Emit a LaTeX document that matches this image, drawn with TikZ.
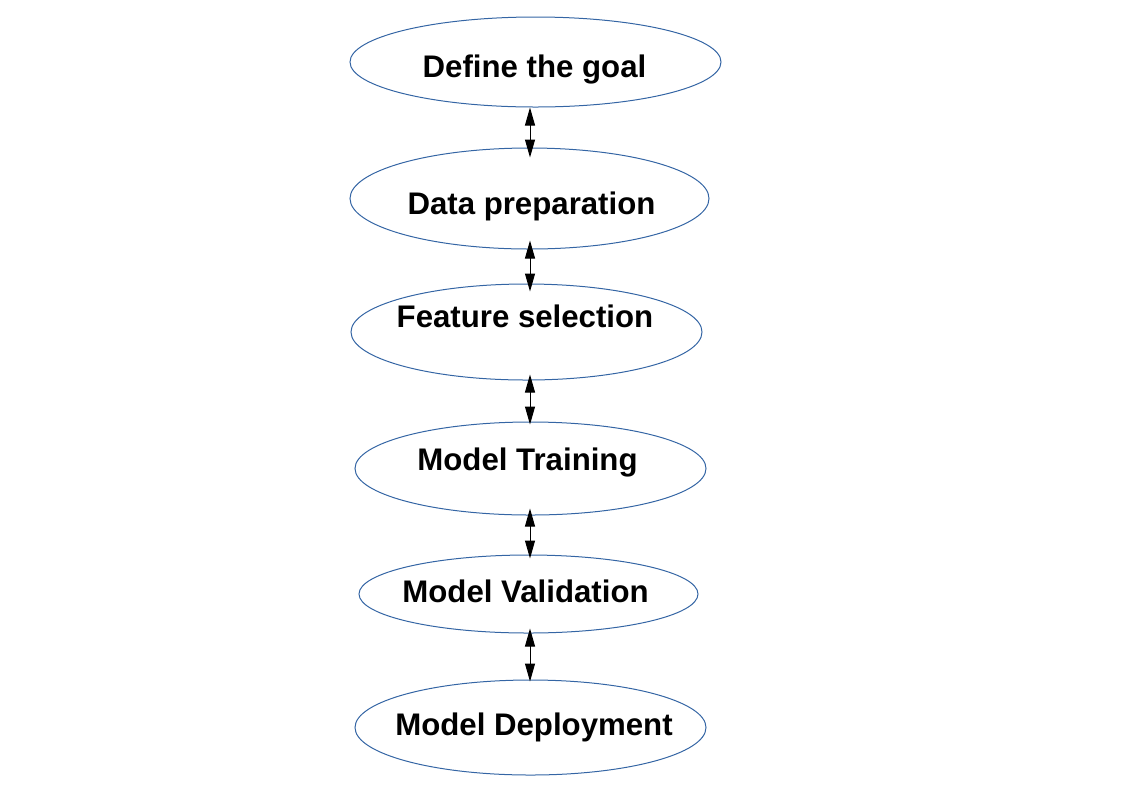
\documentclass[tikz,border=0pt]{standalone}
\usepackage{fontspec}
\setmainfont{Liberation Sans}
\usepackage{tikz}
\usetikzlibrary{arrows.meta,shapes}
\definecolor{stageblue}{HTML}{3465A4}

\begin{document}
\begin{tikzpicture}[x=0.75pt,y=-0.75pt,
    stage/.style={draw=stageblue, line width=0.75pt, ellipse, inner sep=0pt},
    stagetext/.style={anchor=base, inner sep=0pt, font=\fontsize{23.4pt}{28pt}\selectfont\bfseries},
    link/.style={line width=0.75pt, {Triangle[length=13.5pt,width=7.5pt]}-{Triangle[length=13.5pt,width=7.5pt]}}]
    \useasboundingbox (0,0) rectangle (1123,794);
    % stages
    \node [stage, minimum width=278.25pt, minimum height=67.5pt] (goal) at (535.5,62) {};
    \node [stagetext] (goal-txt) at (534.5,77) {Define the goal};
    \node [stage, minimum width=269.25pt, minimum height=75.75pt] (prep) at (529.5,198.5) {};
    \node [stagetext] (prep-txt) at (531.5,214) {Data preparation};
    \node [stage, minimum width=263.25pt, minimum height=72pt] (feat) at (526.5,332) {};
    \node [stagetext] (feat-txt) at (525,327) {Feature selection};
    \node [stage, minimum width=263.25pt, minimum height=69.75pt] (train) at (530.5,468.5) {};
    \node [stagetext] (train-txt) at (527.5,470) {Model Training};
    \node [stage, minimum width=254.25pt, minimum height=58.5pt] (valid) at (528.5,594) {};
    \node [stagetext] (valid-txt) at (525.5,602) {Model Validation};
    \node [stage, minimum width=263.25pt, minimum height=71.25pt] (deploy) at (530.5,727.5) {};
    \node [stagetext] (deploy-txt) at (534,735) {Model Deployment};
    % links
    \coordinate (spine) at (530,0);
    \draw [link, shorten >=-7.5pt] (goal.south -| spine) -- (prep.north -| spine);
    \draw [link, shorten <=-6.75pt, shorten >=-6pt] (prep.south -| spine) -- (feat.north -| spine);
    \draw [link, shorten <=-4.5pt, shorten >=-2.25pt] (feat.south -| spine) -- (train.north -| spine);
    \draw [link, shorten <=-5.25pt, shorten >=-3pt] (train.south -| spine) -- (valid.north -| spine);
    \draw [link, shorten <=-3.75pt, shorten >=-1.5pt] (valid.south -| spine) -- (deploy.north -| spine);
\end{tikzpicture}
\end{document}
